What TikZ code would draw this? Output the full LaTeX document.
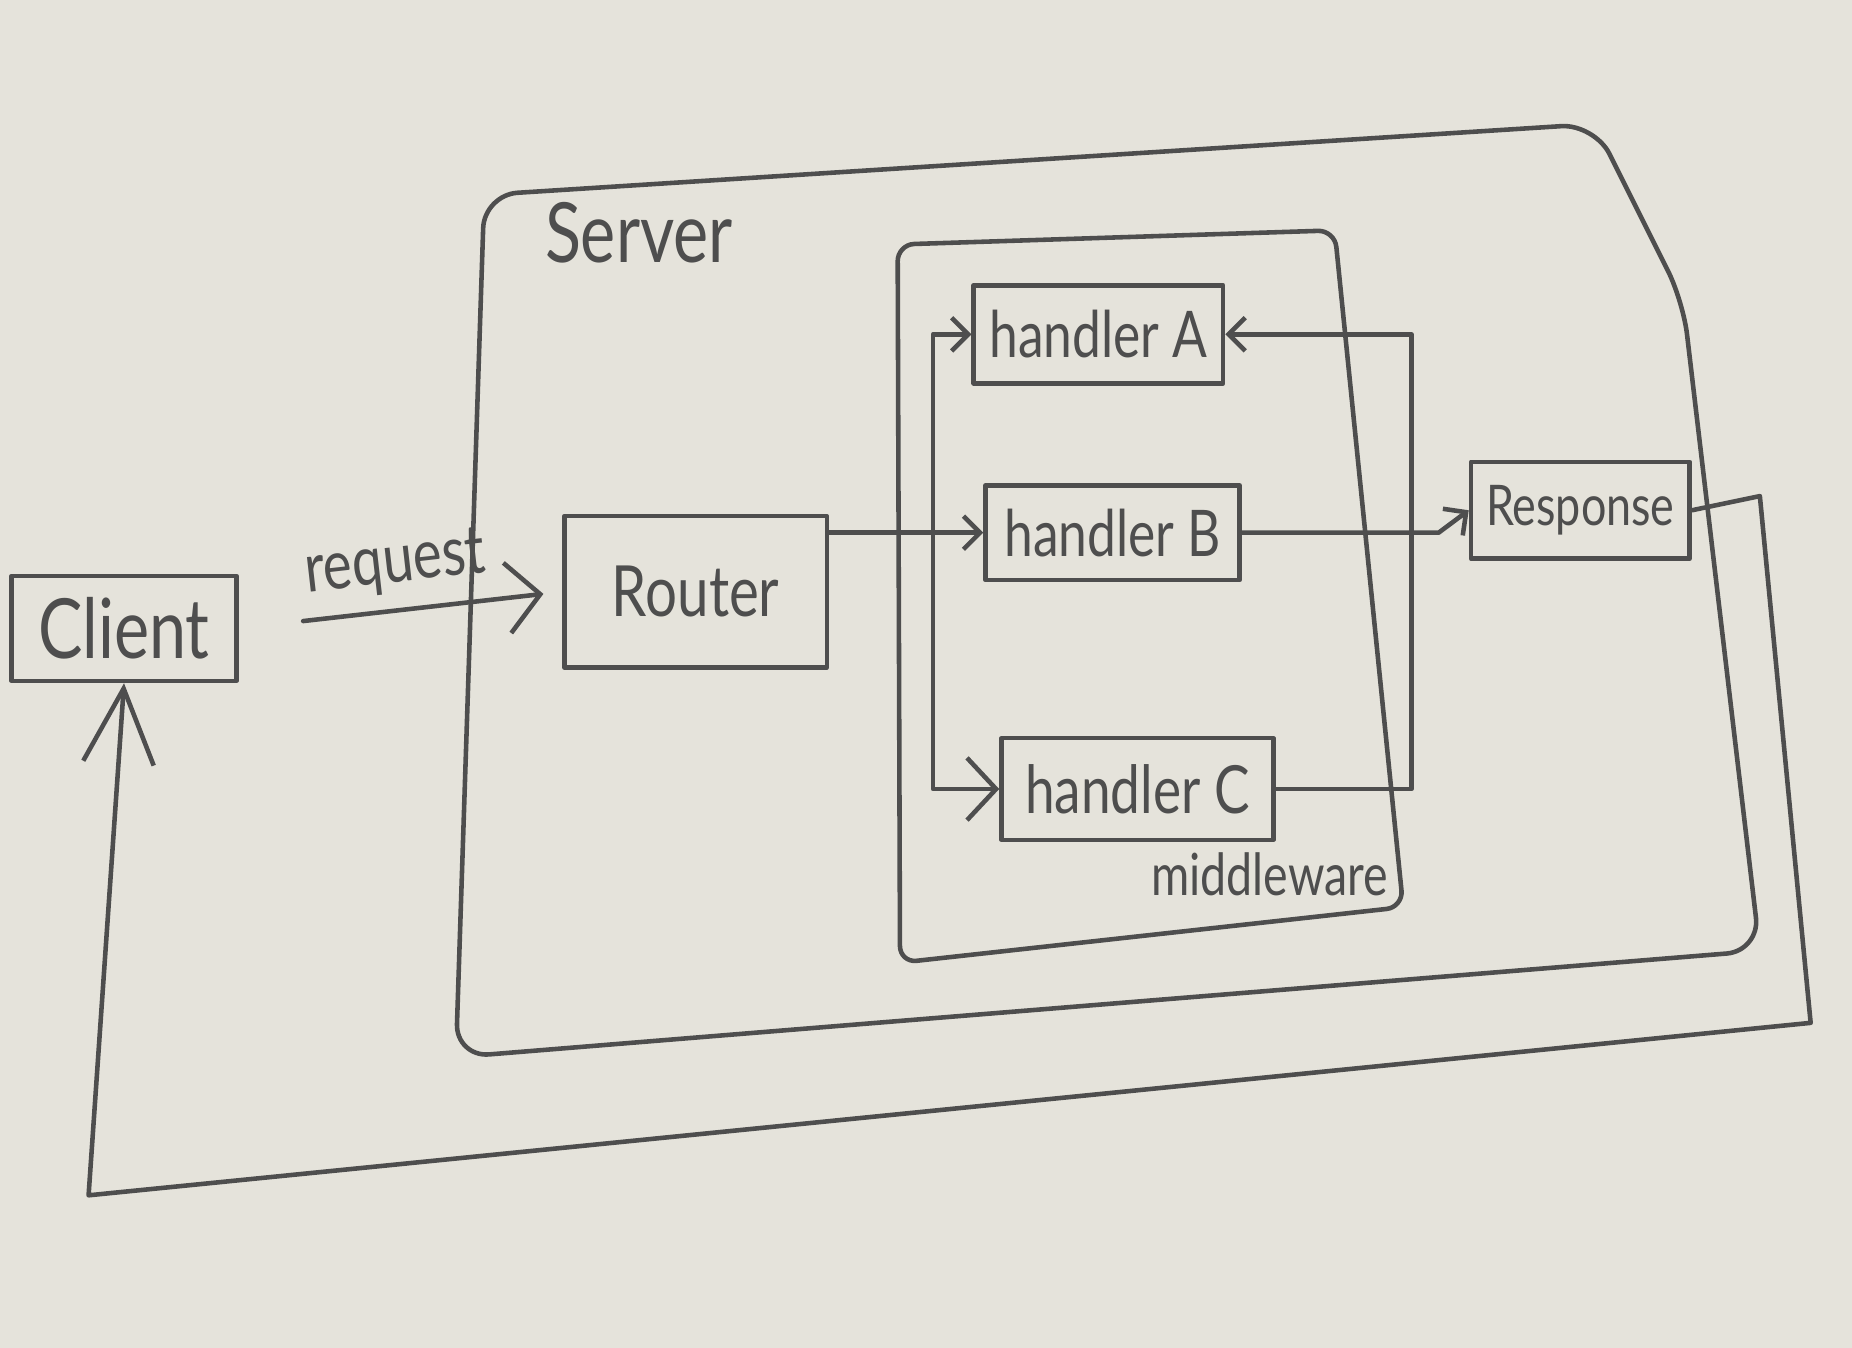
\documentclass[tikz,border=0pt]{standalone}
\usepackage{fontspec}
\setmainfont{Lato}
\newfontfamily\hand[FakeStretch=0.8]{Lato}
\usetikzlibrary{arrows.meta}
\definecolor{paper}{HTML}{E5E3DB}
\definecolor{ink}{HTML}{4E4E4E}
\begin{document}
\begin{tikzpicture}[x=0.01cm,y=-0.01cm,
  wire/.style={draw=ink, line width=1.1pt, line join=round, line cap=round},
  box/.style={wire, rectangle, inner sep=0pt, text=ink},
  lbl/.style={text=ink, inner sep=0pt},
  tipS/.style={-{Straight Barb[length=4pt,width=8pt]}},
  tipM/.style={-{Straight Barb[length=7pt,width=15pt]}},
  tipL/.style={-{Straight Barb[length=8pt,width=17pt]}},
  tipXL/.style={-{Straight Barb[length=18pt,width=17pt]}}
]
\fill[paper] (0,0) rectangle (1568,1141);
\useasboundingbox (0,0) rectangle (1568,1141);

% containers
\coordinate (sTL) at (410,165);
\coordinate (sTR) at (1350,105);
\coordinate (sR)  at (1425,255);
\coordinate (sBR) at (1490,805);
\coordinate (sBL) at (386,895);
\draw[wire, rounded corners=8pt] (sTL) -- (sTR) -- (sR) -- (sBR) -- (sBL) -- cycle;
\node[lbl, font={\hand\fontsize{20}{24}\selectfont}] (serverlbl) at (541,197) {Server};

\coordinate (mTL) at (760,207);
\coordinate (mTR) at (1130,195);
\coordinate (mBR) at (1188,768);
\coordinate (mBL) at (762,815);
\draw[wire, rounded corners=4pt] (mTL) -- (mTR) -- (mBR) -- (mBL) -- cycle;
\node[lbl, font={\hand\fontsize{14}{17}\selectfont}] (mwlbl) at (1075,740) {middleware};

% nodes
\node[box, minimum width=1.90cm, minimum height=0.89cm, font={\hand\fontsize{20}{24}\selectfont}] (client) at (105,532) {Client};
\node[box, minimum width=2.22cm, minimum height=1.28cm, font={\hand\fontsize{17}{20}\selectfont}] (router) at (589,501) {Router};
\node[box, minimum width=2.11cm, minimum height=0.83cm, font={\hand\fontsize{15.5}{19}\selectfont}] (hA) at (930,283) {handler A};
\node[box, minimum width=2.15cm, minimum height=0.80cm, font={\hand\fontsize{15.5}{19}\selectfont}] (hB) at (942,451) {handler B};
\node[box, minimum width=2.30cm, minimum height=0.86cm, font={\hand\fontsize{16}{19}\selectfont}] (hC) at (963,668) {handler C};
\node[box, minimum width=1.85cm, minimum height=0.82cm, font={\hand\fontsize{13.5}{16}\selectfont}] (resp) at (1338,432) {Response};

% connectors
\draw[wire, tipL, shorten <=0.55cm, shorten >=0.16cm] (client.east) -- node[lbl, sloped, above=0.12cm, font={\hand\fontsize{16.5}{20}\selectfont}] {request} (router.west);

\coordinate (busx) at (790,0);
\coordinate (retx) at (1195,0);
\draw[wire, tipS] (router.east |- hB.west) -- (hB.west);
\draw[wire, tipS] (hB.west -| busx) |- (hA.west);
\draw[wire, tipM] (hB.west -| busx) |- (hC.west);

\draw[wire, tipS] (hC.east) -| (retx |- hB.east) |- (hA.east);
\coordinate (bk) at (1218,451);
\draw[wire, tipS] (hB.east) -- (bk) -- (resp.west);

\coordinate (o1) at (1490,420);
\coordinate (o2) at (1533,866);
\coordinate (o3) at (75,1012);
\draw[wire, tipXL] (resp.east) -- (o1) -- (o2) -- (o3) -- (client.south);
\end{tikzpicture}
\end{document}
